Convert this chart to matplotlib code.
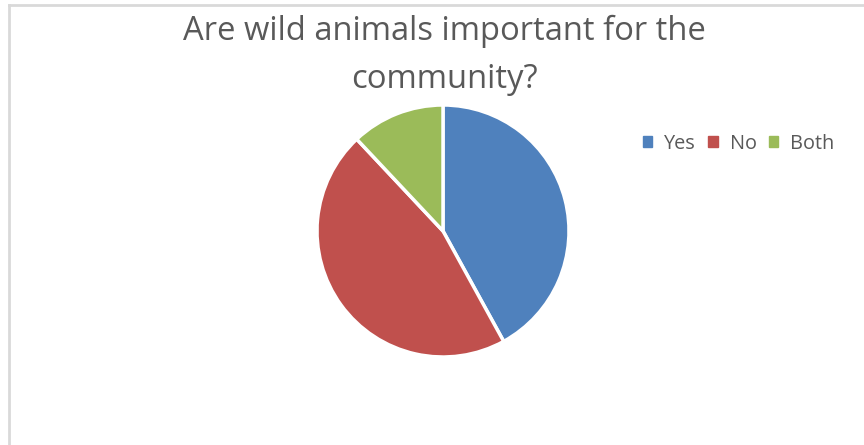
import matplotlib
matplotlib.use("Agg")
import matplotlib.pyplot as plt
from matplotlib.patches import Rectangle

# Survey answers, in percent
labels = ["Yes", "No", "Both"]
shares = [42, 46, 12]
colors = ["#4f81bd", "#c0504d", "#9bbb59"]

W, H = 864, 445
fig = plt.figure(figsize=(W / 100, H / 100), dpi=100)
fig.patch.set_facecolor("white")

# light chart-area frame (only top and left edges fall inside the image)
fig.add_artist(plt.Line2D([9 / W, 9 / W], [0, 1 - 5 / H], color="#d9d9d9", lw=2))
fig.add_artist(plt.Line2D([9 / W, 1], [1 - 5 / H, 1 - 5 / H], color="#d9d9d9", lw=2))

txt = "#595959"
font = "Open Sans"
fig.text(444 / W, 1 - 31 / H, "Are wild animals important for the", ha="center", va="center",
         fontsize=23.6, color=txt, family=font)
fig.text(444 / W, 1 - 80 / H, "community?", ha="center", va="center",
         fontsize=23.6, color=txt, family=font)

# pie axes
cx, cy, r = 443, 231, 126
ax = fig.add_axes([(cx - r) / W, (H - cy - r) / H, 2 * r / W, 2 * r / H])
ax.pie(shares, colors=colors, startangle=90, counterclock=False,
       wedgeprops=dict(edgecolor="white", linewidth=2.5))
ax.set_xlim(-1, 1)
ax.set_ylim(-1, 1)
ax.set_aspect("equal")
ax.axis("off")

# legend row
handles = [Rectangle((0, 0), 1, 1, color=c) for c in colors]
fig.legend(handles, labels, loc="center left", bbox_to_anchor=(643 / W, 1 - 144 / H),
           ncol=3, frameon=False, borderpad=0, borderaxespad=0,
           handlelength=0.47, handleheight=0.47,
           handletextpad=0.6, columnspacing=0.62,
           prop=dict(family=font, size=14.3), labelcolor=txt)

fig.savefig("out.png", dpi=100)
